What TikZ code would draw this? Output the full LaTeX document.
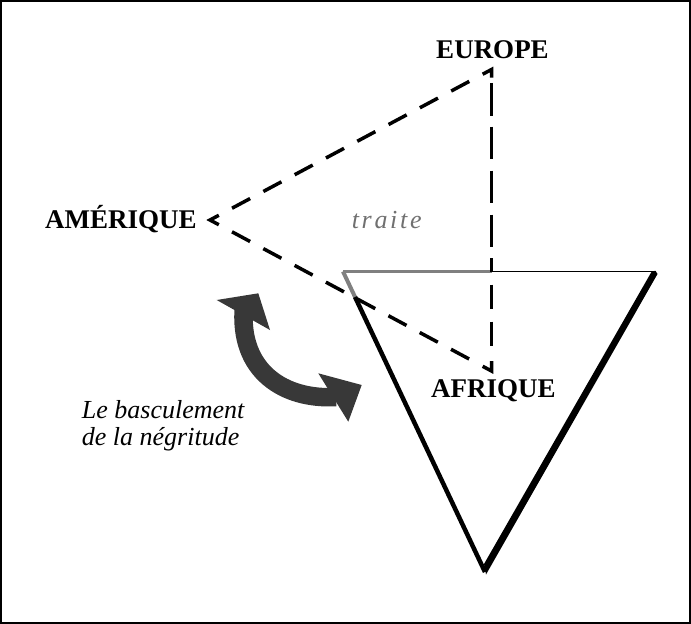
\documentclass[tikz,border=0pt]{standalone}
\usepackage{fontspec}
\setmainfont{Liberation Serif}
\usetikzlibrary{calc}
\definecolor{arrowgray}{HTML}{383838}
\definecolor{edgegray}{HTML}{808080}
\definecolor{textgray}{HTML}{707070}
\begin{document}
\begin{tikzpicture}[x=1pt,y=-1pt,
  place/.style={font=\fontsize{27}{30}\selectfont\bfseries, inner sep=0pt, anchor=base},
  note/.style={font=\fontsize{26}{27}\selectfont\itshape, inner sep=0pt},
  dashline/.style={line width=3.5pt, black, line cap=butt},
  diagdash/.style={dashline, dash pattern=on 20.5pt off 15pt},
  swingshaft/.style={arrowgray, line width=18.5pt},
  swinghead/.style={fill=arrowgray}]
\useasboundingbox (0,0) rectangle (691,624);
\draw[line width=2pt] (1,1) rectangle (690,623);

% triangle (Africa)
\coordinate (ttl) at (343,271.5);
\coordinate (ttr) at (655,271.5);
\coordinate (ttb) at (485,572);
\coordinate (ttm) at (491.5,271.5);
\draw[edgegray, line width=2.2pt] (ttl) -- (ttm);
\draw[black, line width=1.8pt] (ttm) -- (ttr);
\draw[edgegray, line width=4pt] (ttl) -- ($(ttl)!0.09!(ttb)$);
\draw[black, line width=4.5pt] ($(ttl)!0.085!(ttb)$) -- (ttb);
\fill[black] (651.7,271.5) -- (655.5,270.8) -- (657.5,274) -- (486,574.5) -- (484,564) -- cycle;

% dashed trade triangle
\coordinate (A) at (210,220);
\coordinate (E) at (491.5,69.5);
\coordinate (F) at (491.5,371);
\draw[diagdash] ($(A)!25pt!(E)$) -- ($(E)!25pt!(A)$);
\draw[diagdash] ($(A)!25pt!(F)$) -- ($(F)!25pt!(A)$);
\draw[dashline, dash pattern=on 32.7pt off 11.2pt] ($(E)+(0,13.3)$) -- (ttm);
\draw[dashline, dash pattern=on 24.5pt off 12.5pt] ($(E)+(0,215)$) -- ($(E)+(0,277)$);
\draw[dashline, line join=miter] ($(A)!10pt!(E)$) -- (A) -- ($(A)!10pt!(F)$);
\draw[dashline, line join=miter] ($(E)!10pt!(A)$) -- (E) -- ($(E)!8pt!(F)$);
\draw[dashline, line join=miter] ($(F)!10pt!(A)$) -- (F) -- ($(F)!10pt!(E)$);

% labels
\node[place] (eu) at (492.5,58.3) {EUROPE};
\node[place] (am) at (121,228) {AMÉRIQUE};
\node[place] (af) at (493.3,397.5) {AFRIQUE};
\node[note, text=textgray, anchor=base] (traite) at (386.7,228.3)
  {t\kern2.7pt r\kern2.7pt a\kern2.7pt i\kern2.7pt t\kern2.7pt e};
\node[note, anchor=base west] (bl1) at (81.7,418.3) {Le basculement};
\node[note, anchor=base west] (bl2) at (81.7,445) {de la négritude};

% curved double arrow
\coordinate (cs) at (244,306);
\coordinate (ce) at (336,397);
\draw[swingshaft] (cs) .. controls (238,372) and (285,400) .. (ce);
\fill[swinghead] (216.7,300) -- (258.3,293.3) -- (270,330) -- cycle;
\fill[swinghead] (318.3,373.3) -- (361.7,385) -- (348.3,421.7) -- cycle;
\end{tikzpicture}
\end{document}
